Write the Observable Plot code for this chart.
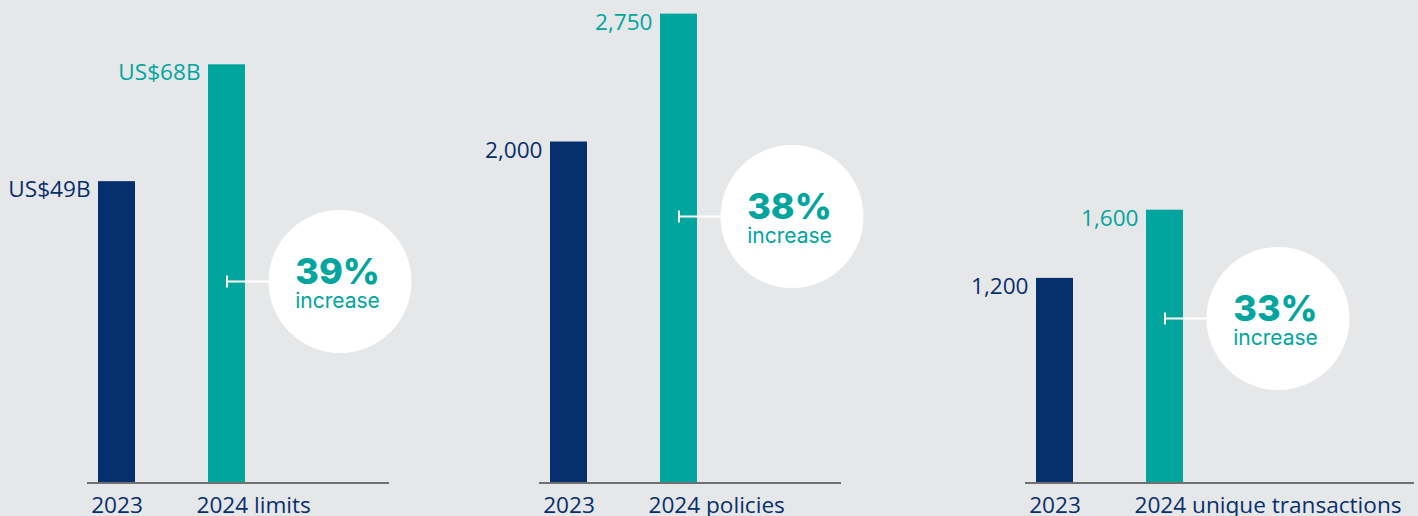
<!DOCTYPE html>
<html><head><meta charset="utf-8">
<script src="https://cdn.jsdelivr.net/npm/d3@7"></script>
<script src="https://cdn.jsdelivr.net/npm/@observablehq/plot@0.6"></script>
<style>
html,body{margin:0;padding:0;background:#e6e7e9;}
#chart{position:relative;width:1418px;height:516px;overflow:hidden;background:#e6e7e9;}
#chart svg{position:absolute;top:0;}
</style></head><body><div id="chart"></div>
<script>
// ---- data ----
const years = ["2023", "2024"];
const metrics = ["limits", "policies", "unique transactions"];
const limitsValues = [49, 68];
const policiesValues = [2000, 2750];
const transactionsValues = [1200, 1600];
const increases = ["39%", "38%", "33%"];
const increaseWord = "increase";

// ---- style / layout ----
const NAVY = "#062f6e", TEAL = "#00a59e", BASE = "#6f7072";
const seriesValues = [limitsValues, policiesValues, transactionsValues];
const formats = [v => `US$${v}B`, d3.format(","), d3.format(",")];
const layout = [
  {left: 0,   width: 460, range: [97, 245], mL: 87, mR: 71, k: 6.15,   annoPx: 281},
  {left: 470, width: 470, range: [80, 227], mL: 69, mR: 99, k: 0.1705, annoPx: 216},
  {left: 940, width: 478, range: [95, 243], mL: 85, mR: 4,  k: 0.1705, annoPx: 318}
];
const baseY = 482.5, H = 516;
const circleR = 71.5, circleDx = 113, textDx = 110.5;
const FS = 22.6;

const connector = {
  draw(ctx) {
    ctx.moveTo(0, 0); ctx.lineTo(42, 0);
    ctx.moveTo(0, -6); ctx.lineTo(0, 6);
  }
};

const chart = document.getElementById("chart");

layout.forEach((L, i) => {
  const vals = seriesValues[i];
  const data = years.map((y, j) => ({year: y, value: vals[j], color: j === 0 ? NAVY : TEAL}));
  const annoVal = (baseY - L.annoPx) / L.k;
  const anno = [{year: years[1], value: annoVal}];
  const fmt = formats[i];
  const svg = Plot.plot({
    width: L.width,
    height: H,
    marginLeft: L.mL,
    marginRight: L.mR,
    marginTop: 0,
    marginBottom: H - baseY,
    style: {background: "transparent", fontFamily: "Open Sans", overflow: "visible"},
    x: {type: "band", domain: years, range: L.range, paddingInner: 2/3, paddingOuter: 0, axis: null},
    y: {type: "linear", domain: [0, baseY / L.k], range: [baseY, 0], axis: null},
    marks: [
      Plot.barY(data, {x: "year", y: "value", fill: "color"}),
      Plot.ruleY([0], {stroke: BASE, strokeWidth: 2}),
      Plot.text(data, {x: "year", y: "value", text: d => fmt(d.value), fill: "color",
        textAnchor: "end", lineAnchor: "top", dx: -26.5, dy: -0.5, fontSize: FS, fontFamily: "Open Sans"}),
      Plot.text([data[0]], {x: "year", y: () => 0, text: d => d.year, fill: NAVY,
        textAnchor: "middle", lineAnchor: "top", dy: 14, fontSize: FS, fontFamily: "Open Sans"}),
      Plot.text([data[1]], {x: "year", y: () => 0, text: d => `${d.year} ${metrics[i]}`, fill: NAVY,
        textAnchor: "start", lineAnchor: "top", dx: -30.5, dy: 14, fontSize: FS, fontFamily: "Open Sans"}),
      Plot.dot(anno, {x: "year", y: "value", symbol: connector, r: 5, stroke: "white", strokeWidth: 2, fill: "none"}),
      Plot.dot(anno, {x: "year", y: "value", r: circleR, fill: "white", stroke: "none", dx: circleDx}),
      Plot.text(anno, {x: "year", y: "value", text: () => increases[i], fill: TEAL,
        textAnchor: "middle", lineAnchor: "middle", dx: textDx, dy: 2 - 0.32 * 36, fontSize: 36,
        fontWeight: 800, fontFamily: "Inter"}),
      Plot.text(anno, {x: "year", y: "value", text: () => increaseWord, fill: TEAL,
        textAnchor: "middle", lineAnchor: "middle", dx: textDx, dy: 26 - 0.32 * 21, fontSize: 21,
        fontWeight: 400, fontFamily: "Inter"})
    ]
  });
  svg.style.left = L.left + "px";
  chart.appendChild(svg);
});
</script>
</body></html>
